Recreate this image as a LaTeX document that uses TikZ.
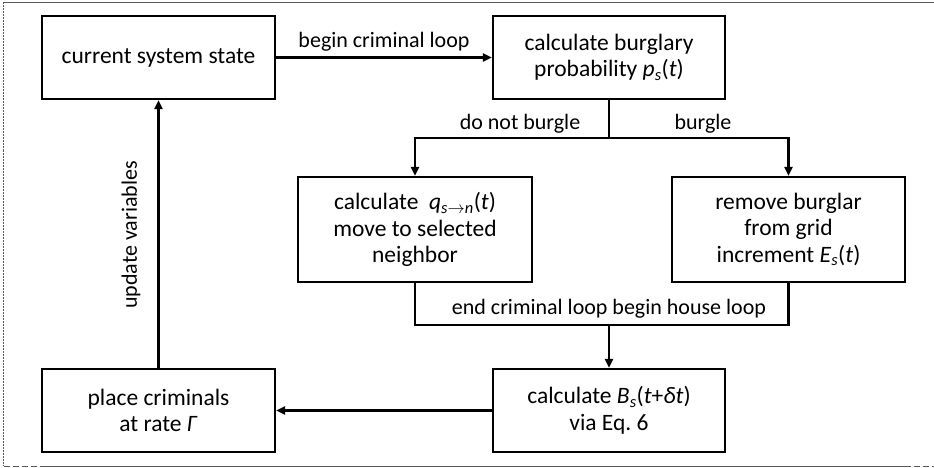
\documentclass[tikz,border=0pt]{standalone}
\usepackage{fontspec}
\setmainfont{Carlito}
\usetikzlibrary{arrows.meta}
\newcommand{\iv}[1]{\textit{#1}}
\newcommand{\sbi}[1]{\textsubscript{\textit{#1}}}
\frenchspacing
\begin{document}
\begin{tikzpicture}[x=1pt,y=-1pt,
  box/.style={draw, line width=2.2pt, align=center, inner sep=0pt, minimum height=83pt,
    font=\fontsize{23.5}{26.5}\selectfont},
  wbox/.style={box, minimum height=105pt},
  link/.style={line width=2.2pt},
  arr/.style={line width=2.2pt, -{Triangle[length=9pt,width=8pt]}},
  lbl/.style={inner sep=0pt, font=\fontsize{22}{26}\selectfont},
  frame/.style={line width=1pt, black!65}]
\useasboundingbox (0,0) rectangle (934,468);
% frame
\draw[frame] (3,2.5) -- (934,2.5);
\draw[frame, dash pattern=on 2pt off 1pt] (3.5,2.5) -- (3.5,466);
\draw[frame, dash pattern=on 6pt off 3pt] (3.5,466) -- (40,466);
\draw[frame] (40,466) -- (905,466);
\draw[frame, dash pattern=on 6pt off 3pt] (905,466) -- (934,466);
% boxes
\node[box, minimum width=233pt] (b1) at (158.5,57.5) {current system state};
\node[box, minimum width=232pt] (b2) at (609,57.5) {calculate burglary\\probability \iv{p}\sbi{s}(\iv{t})};
\node[wbox, minimum width=234pt] (b3) at (415,229.5) {calculate\ \ \iv{q}\textsubscript{\textit{s}$\rightarrow$\textit{n}}(\iv{t})\\move to selected\\neighbor};
\node[wbox, minimum width=233pt] (b4) at (788.5,229.5) {remove burglar\\from grid\\increment \iv{E}\sbi{s}(\iv{t})};
\node[box, minimum width=232pt] (b5) at (609,410.5) {calculate \iv{B}\sbi{s}(\iv{t}+\iv{δt})\\via Eq.\ 6};
\node[box, minimum width=233pt] (b6) at (158.5,410.5) {place criminals\\at rate \iv{Γ}};
% connectors
\draw[arr] (b1.east) -- (b2.west);
\node[lbl] (l1) at (384,42) {begin criminal loop};
\coordinate (s1) at (609,138);
\draw[link] (b2.south) -- (s1);
\draw[arr] (s1) -| (b3.north);
\draw[arr] (s1) -| (b4.north);
\node[lbl] (l2) at (520,124) {do not burgle};
\node[lbl] (l3) at (703,124) {burgle};
\coordinate (m1) at (609,325);
\draw[link] (b3.south) |- (m1);
\draw[link] (b4.south) |- (m1);
\draw[arr] (m1) -- (b5.north);
\node[lbl] (l4) at (609,309) {end criminal loop begin house loop};
\draw[arr] (b5.west) -- (b6.east);
\draw[arr] (b6.north) -- (b1.south);
\node[lbl, rotate=90] (l5) at (131,235) {update variables};
\end{tikzpicture}
\end{document}
